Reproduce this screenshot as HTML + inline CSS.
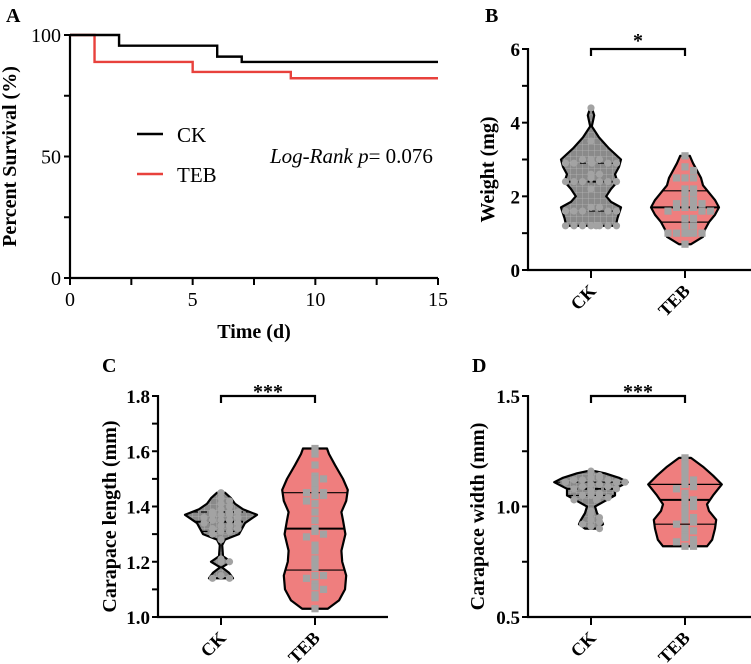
<!DOCTYPE html>
<html><head><meta charset="utf-8"><style>
html,body{margin:0;padding:0;background:#fff;}
svg{display:block;font-family:"Liberation Serif",serif;}
</style></head><body>
<svg id="fig" width="751" height="664" viewBox="0 0 751 664" xmlns="http://www.w3.org/2000/svg">
<defs>
<pattern id="grid" width="6" height="6" patternUnits="userSpaceOnUse">
<rect width="6" height="6" fill="#8a8a8a"/>
<path d="M0 0H6M0 0V6" stroke="#b5b5b5" stroke-width="0.8"/>
</pattern>
</defs>
<g id="panelA"></g>
<g id="panelB"></g>
<g id="panelC"></g>
<g id="panelD"></g>
</svg>
<script>
// ---- Panel A data ----
const ckTimes = [0, 2, 6, 7, 15];
const ckSurv = [100, 95.6, 91.1, 88.9, 88.9];
const tebTimes = [0, 1, 5, 9, 15];
const tebSurv = [100, 88.9, 84.8, 82.2, 82.2];
const aXTicks = [0, 5, 10, 15];
const aYTicks = [0, 50, 100];

// ---- Panel B data ----
const bCkVals = [4.4,3.5,3.0,3.0,3.0,2.9,2.9,2.9,2.9,2.9,2.6,2.6,2.5,2.4,2.4,2.4,2.4,2.4,2.4,2.2,1.7,1.7,1.6,1.6,1.6,1.6,1.6,1.2,1.2,1.2,1.2,1.2,1.2,1.2,1.2];
const bTebVals = [3.1,2.8,2.7,2.5,2.5,2.5,2.2,2.2,2.1,2.1,1.9,1.9,1.8,1.8,1.8,1.8,1.7,1.7,1.7,1.6,1.6,1.6,1.4,1.4,1.2,1.2,1.0,1.0,1.0,1.0,1.0,1.0,0.7];
const bCkShape = [[1.2,0.62],[1.4,0.66],[1.7,0.75],[1.85,0.5],[2.0,0.38],[2.2,0.5],[2.4,0.66],[2.6,0.6],[2.8,0.7],[3.0,0.75],[3.3,0.45],[3.6,0.2],[3.9,0.02],[4.2,0.08],[4.4,0.02]];
const bTebShape = [[0.7,0.15],[0.9,0.45],[1.1,0.5],[1.3,0.6],[1.5,0.75],[1.7,0.85],[1.9,0.75],[2.1,0.6],[2.3,0.45],[2.5,0.4],[2.7,0.3],[2.9,0.2],[3.1,0.12]];
const bCkQ = [2.9,2.4,1.6];
const bTebQ = [2.15,1.7,1.3];
const bTicks = [0,2,4,6];

// ---- Panel C data ----
const cCkVals = [1.45,1.43,1.42,1.41,1.40,1.39,1.38,1.38,1.38,1.37,1.37,1.37,1.36,1.36,1.35,1.35,1.35,1.34,1.34,1.33,1.33,1.32,1.32,1.31,1.31,1.30,1.28,1.21,1.20,1.20,1.15,1.14,1.14];
const cTebVals = [1.61,1.59,1.55,1.51,1.50,1.50,1.48,1.46,1.45,1.45,1.44,1.44,1.42,1.41,1.38,1.35,1.32,1.31,1.30,1.29,1.26,1.24,1.21,1.20,1.18,1.15,1.15,1.14,1.12,1.11,1.10,1.08,1.07,1.03];
const cCkShape = [[1.14,0.3],[1.16,0.2],[1.18,0.02],[1.2,0.25],[1.22,0.05],[1.26,0.03],[1.28,0.1],[1.30,0.45],[1.34,0.6],[1.37,0.9],[1.39,0.55],[1.41,0.35],[1.43,0.25],[1.45,0.1]];
const cTebShape = [[1.03,0.32],[1.06,0.6],[1.1,0.75],[1.15,0.78],[1.2,0.68],[1.24,0.66],[1.3,0.76],[1.35,0.7],[1.38,0.66],[1.42,0.78],[1.46,0.82],[1.5,0.7],[1.55,0.5],[1.59,0.35],[1.61,0.3]];
const cCkQ = [1.38,1.345,1.31];
const cTebQ = [1.45,1.32,1.17];
const cTicks = [1.0,1.2,1.4,1.6,1.8];

// ---- Panel D data ----
const dCkVals = [1.16,1.14,1.13,1.13,1.12,1.12,1.12,1.11,1.11,1.11,1.10,1.10,1.09,1.09,1.08,1.08,1.07,1.06,1.05,1.05,1.05,1.04,1.03,1.03,0.98,0.97,0.95,0.94,0.93,0.92,0.91,0.90];
const dTebVals = [1.22,1.19,1.17,1.15,1.12,1.12,1.10,1.09,1.08,1.06,1.04,1.03,1.02,1.00,0.99,0.97,0.95,0.94,0.93,0.92,0.90,0.89,0.87,0.86,0.85,0.84,0.82,0.82];
const dCkShape = [[0.90,0.15],[0.92,0.3],[0.94,0.25],[0.97,0.15],[1.00,0.1],[1.02,0.3],[1.05,0.6],[1.08,0.6],[1.11,0.92],[1.13,0.7],[1.15,0.35],[1.16,0.1]];
const dTebShape = [[0.82,0.55],[0.85,0.68],[0.9,0.75],[0.94,0.78],[0.98,0.6],[1.01,0.55],[1.05,0.7],[1.1,0.92],[1.14,0.7],[1.18,0.45],[1.22,0.15]];
const dCkQ = [1.11,1.08,1.05];
const dTebQ = [1.1,1.03,0.92];
const dTicks = [0.5,1.0,1.5];

const NS = "http://www.w3.org/2000/svg";
function mk(parent, tag, attrs, text) {
  const e = document.createElementNS(NS, tag);
  for (const k in attrs) e.setAttribute(k, attrs[k]);
  if (text !== undefined) e.textContent = text;
  parent.appendChild(e);
  return e;
}

// ===== Panel A =====
(function(){
  const g = document.getElementById('panelA');
  const x0 = 70, x1 = 438, y0 = 278, y1 = 35;
  const sx = v => x0 + (v / 15) * (x1 - x0);
  const sy = v => y0 - (v / 100) * (y0 - y1);
  let e = mk(g,'text',{x:6,y:22,'font-size':20,'font-weight':'bold'},'A');
   
  e = mk(g,'path',{d:`M${x0} ${y1-1}V${y0}H${x1}`,stroke:'#000','stroke-width':2.2,fill:'none'});
   
  for (let v = 0; v <= 100; v += 25) {
    e = mk(g,'line',{x1:x0-6,x2:x0,y1:sy(v),y2:sy(v),stroke:'#000','stroke-width':2});
     
  }
  aYTicks.forEach(v=>{
    e = mk(g,'text',{x:x0-9,y:sy(v)+7,'font-size':20,'text-anchor':'end'},String(v));
     
  });
  for (let v = 0; v <= 15; v += 2.5) {
    e = mk(g,'line',{x1:sx(v),x2:sx(v),y1:y0,y2:y0+7,stroke:'#000','stroke-width':2});
     
  }
  aXTicks.forEach(v=>{
    e = mk(g,'text',{x:sx(v),y:y0+28,'font-size':20,'text-anchor':'middle'},String(v));
     
  });
  e = mk(g,'text',{x:254,y:338,'font-size':20,'font-weight':'bold','text-anchor':'middle'},'Time (d)');
   
  e = mk(g,'text',{x:0,y:0,'font-size':20,'font-weight':'bold','text-anchor':'middle',transform:`translate(16,${(y0+y1)/2}) rotate(-90)`},'Percent Survival (%)');
   
  function step(t, s, color, name){
    let d = `M${sx(t[0])} ${sy(s[0])}`;
    for (let i=1;i<t.length;i++){ d += `H${sx(t[i])}V${sy(s[i])}`; }
    const p = mk(g,'path',{d,stroke:color,'stroke-width':2.4,fill:'none'});
     
  }
  step(tebTimes, tebSurv, '#e8413c', 'teb-survival-line');
  step(ckTimes, ckSurv, '#000', 'ck-survival-line');
  e = mk(g,'line',{x1:137,x2:163,y1:134,y2:134,stroke:'#000','stroke-width':2.4});
   
  e = mk(g,'text',{x:177,y:142,'font-size':21},'CK');
   
  e = mk(g,'line',{x1:137,x2:163,y1:174,y2:174,stroke:'#e8413c','stroke-width':2.4});
   
  e = mk(g,'text',{x:177,y:182,'font-size':21},'TEB');
   
  e = mk(g,'text',{x:270,y:163,'font-size':21},'');
  e.innerHTML = '<tspan font-style="italic">Log-Rank  p</tspan>= 0.076';
  e.setAttribute('xml:space','preserve');
   
})();

// ===== Violin panels =====
function violinPanel(opts){
  const g = document.getElementById(opts.id);
  const {ax, yTop, yBot, vMin, vMax, xCk, xTeb, xEnd} = opts;
  const sy = v => yBot - (v - vMin) / (vMax - vMin) * (yBot - yTop);
  const maxHW = 40;
  let e = mk(g,'text',{x:opts.lx,y:opts.ly,'font-size':20,'font-weight':'bold'},opts.letter);
   
  e = mk(g,'path',{d:`M${ax} ${yTop-1}V${yBot}H${xEnd}`,stroke:'#000','stroke-width':2.2,fill:'none'});
   
  opts.minor.forEach(v=>{
    e = mk(g,'line',{x1:ax-6,x2:ax,y1:sy(v),y2:sy(v),stroke:'#000','stroke-width':2});
     
  });
  opts.ticks.forEach(v=>{
    e = mk(g,'text',{x:ax-8,y:sy(v)+7,'font-size':19,'font-weight':'bold','text-anchor':'end'},opts.fmt(v));
     
  });
  e = mk(g,'text',{x:0,y:0,'font-size':20,'font-weight':'bold','text-anchor':'middle',transform:`translate(${opts.tx},${(yTop+yBot)/2+10}) rotate(-90)`},opts.title);
   
  [[xCk,'CK'],[xTeb,'TEB']].forEach(([x,l])=>{
    e = mk(g,'line',{x1:x,x2:x,y1:yBot,y2:yBot+8,stroke:'#000','stroke-width':2});
     
    e = mk(g,'text',{x:0,y:0,'font-size':18,'font-weight':'bold','text-anchor':'end',transform:`translate(${x+6},${yBot+22}) rotate(-45)`},l);
     
  });
  // significance bracket
  const by = sy(vMax);
  e = mk(g,'path',{d:`M${xCk} ${by+7}V${by}H${xTeb}V${by+7}`,stroke:'#000','stroke-width':2.2,fill:'none'});
   
  e = mk(g,'text',{x:(xCk+xTeb)/2,y:by-6+opts.starDy,'font-size':20,'font-weight':'bold','text-anchor':'middle'},opts.stars);
   

  function violin(cx, shape, q, vals, fill, isCk, name){
    let right = shape.map(([v,w])=>`${cx + w*maxHW} ${sy(v)}`);
    let left = shape.slice().reverse().map(([v,w])=>`${cx - w*maxHW} ${sy(v)}`);
    const d = 'M' + right.join('L') + 'L' + left.join('L') + 'Z';
    const p = mk(g,'path',{d,fill,stroke:'#000','stroke-width':2.2,'stroke-linejoin':'round'});
     
    function hwAt(v){
      for (let i=1;i<shape.length;i++){
        if (v <= shape[i][0]) {
          const [a,wa] = shape[i-1], [b,wb] = shape[i];
          return (wa + (wb-wa)*(v-a)/(b-a))*maxHW;
        }
      }
      return shape[shape.length-1][1]*maxHW;
    }
    q.forEach((v,i)=>{
      const hw = hwAt(v);
      const l = mk(g,'line',{x1:cx-hw,x2:cx+hw,y1:sy(v),y2:sy(v),stroke:'#000','stroke-width':i===1?2:1.2,'stroke-dasharray':isCk?(i===1?'6 3 2 3':'6 3'):(i===1?'':'')});
       
    });
    const counts = {};
    vals.forEach(v=>{
      const key = Math.round(sy(v)/6);
      const k = counts[key] = (counts[key]||0) + 1;
      const idx = k-1;
      let off = idx===0 ? 0 : (idx%2 ? 1 : -1) * Math.ceil(idx/2) * 8.5;
      const hw = Math.max(hwAt(v), 6);
      if (Math.abs(off) > hw + 4) off = Math.sign(off) * ((Math.abs(off)) % (hw+4));
      const x = cx + off, y = sy(v);
      let m;
      if (isCk) m = mk(g,'circle',{cx:x,cy:y,r:3.6,fill:'#a3a3a3'});
      else m = mk(g,'rect',{x:x-3.6,y:y-3.6,width:7.2,height:7.2,fill:'#a3a3a3'});
       
    });
  }
  violin(xCk, opts.ckShape, opts.ckQ, opts.ckVals, 'url(#grid)', true, 'ck');
  violin(xTeb, opts.tebShape, opts.tebQ, opts.tebVals, '#ef7e7e', false, 'teb');
}

violinPanel({id:'panelB', letter:'B', lx:485, ly:22, ax:528, yTop:49, yBot:270, vMin:0, vMax:6,
  xCk:591, xTeb:685, xEnd:751, minor:[0,1,2,3,4,5,6], ticks:bTicks, fmt:v=>String(v),
  tx:494, title:'Weight (mg)', stars:'*', starDy:4,
  ckShape:bCkShape, tebShape:bTebShape, ckQ:bCkQ, tebQ:bTebQ, ckVals:bCkVals, tebVals:bTebVals});

violinPanel({id:'panelC', letter:'C', lx:102, ly:372, ax:158, yTop:396, yBot:617, vMin:1.0, vMax:1.8,
  xCk:221, xTeb:315, xEnd:388, minor:[1.0,1.1,1.2,1.3,1.4,1.5,1.6,1.7,1.8], ticks:cTicks, fmt:v=>v.toFixed(1),
  tx:116, title:'Carapace length (mm)', stars:'***', starDy:8,
  ckShape:cCkShape, tebShape:cTebShape, ckQ:cCkQ, tebQ:cTebQ, ckVals:cCkVals, tebVals:cTebVals});

violinPanel({id:'panelD', letter:'D', lx:472, ly:372, ax:528, yTop:396, yBot:617, vMin:0.5, vMax:1.5,
  xCk:591, xTeb:685, xEnd:751, minor:[0.5,0.75,1.0,1.25,1.5], ticks:dTicks, fmt:v=>v.toFixed(1),
  tx:484, title:'Carapace width (mm)', stars:'***', starDy:8,
  ckShape:dCkShape, tebShape:dTebShape, ckQ:dCkQ, tebQ:dTebQ, ckVals:dCkVals, tebVals:dTebVals});
</script>
</body></html>
